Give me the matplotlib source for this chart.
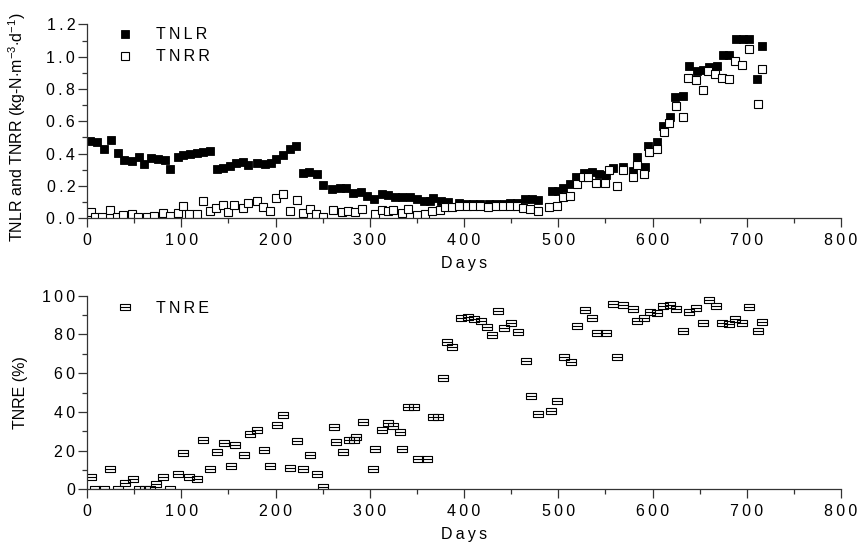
import matplotlib
matplotlib.use("Agg")
import matplotlib.pyplot as plt
from matplotlib.path import Path
from matplotlib.ticker import MultipleLocator, FuncFormatter

plt.rcParams['font.family'] = ['Liberation Sans', 'DejaVu Sans']
plt.rcParams['mathtext.fontset'] = 'custom'
plt.rcParams['mathtext.rm'] = 'Liberation Sans'
plt.rcParams['mathtext.it'] = 'Liberation Sans'

# loading rate (filled) and removal rate (open), kg-N/m3/d
tnlr_days = [3, 11, 18, 25.5, 32.6, 39.7, 47.5, 55, 60, 68, 75, 83, 88, 96, 102,
             109, 116.5, 123.5, 130.6, 137.7, 144.8, 151.8, 158, 166, 171, 180,
             188.6, 195.7, 201, 208, 215, 222, 229, 236, 243.5, 250.6, 260, 268,
             275, 282, 291, 297, 305, 312.5, 319.6, 326.6, 333.7, 343, 350, 357,
             364, 367, 376, 383, 395, 402, 410, 417, 426, 434, 442, 449, 456,
             464.6, 471.7, 478.8, 493, 500, 505, 512, 519, 527, 535.5, 543.5,
             550.6, 558.4, 569, 579, 583, 592, 595.5, 604.5, 611.5, 618, 624,
             632, 639, 647, 654, 660, 668, 675, 681.5, 688.6, 695.7, 702, 711.3,
             716]
tnlr = [0.48, 0.47, 0.43, 0.485, 0.405, 0.36, 0.357, 0.377, 0.336, 0.371, 0.365,
        0.361, 0.303, 0.377, 0.392, 0.398, 0.406, 0.412, 0.414, 0.303, 0.313,
        0.324, 0.344, 0.35, 0.327, 0.344, 0.336, 0.344, 0.365, 0.392, 0.427,
        0.447, 0.282, 0.289, 0.274, 0.206, 0.179, 0.186, 0.186, 0.159, 0.165,
        0.138, 0.122, 0.15, 0.144, 0.134, 0.13, 0.13, 0.12, 0.108, 0.105, 0.128,
        0.108, 0.102, 0.092, 0.09, 0.088, 0.088, 0.086, 0.088, 0.09, 0.092,
        0.095, 0.118, 0.118, 0.113, 0.171, 0.171, 0.19, 0.214, 0.258, 0.278,
        0.289, 0.274, 0.268, 0.309, 0.32, 0.29, 0.377, 0.32, 0.447, 0.474, 0.571,
        0.629, 0.748, 0.757, 0.942, 0.913, 0.918, 0.938, 0.942, 1.012, 1.012,
        1.107, 1.107, 1.107, 0.86, 1.066]

tnrr_days = [4, 8.5, 15.6, 24.5, 31.5, 38.6, 48, 54.5, 63.4, 71.5, 81, 88, 97,
             102.3, 108.3, 116.5, 123.5, 130.6, 136.6, 144.8, 150, 156.4, 166,
             170.6, 180.8, 187, 194, 201, 208, 215, 222.3, 229.3, 236.4, 242.5,
             250.6, 261, 270, 277, 284, 292, 305.4, 312.5, 319.6, 324.9, 333.7,
             340.8, 349.7, 358.5, 365.6, 374.4, 379.7, 386.8, 395, 402.7, 409.8,
             416.9, 425.8, 434, 441.8, 448.9, 456, 463, 470, 478, 490.5, 499,
             505.3, 512.4, 519.5, 526.6, 532, 540, 549.6, 554.2, 562, 569, 579,
             583.2, 591, 596.6, 604.5, 612.2, 617.8, 624.9, 632, 638, 646.2, 654,
             659.2, 666.3, 673.4, 681.5, 687.6, 694.7, 702, 712, 716]
tnrr = [0.041, 0.01, 0.01, 0.052, 0.01, 0.021, 0.025, 0.01, 0.01, 0.016, 0.031,
        0.014, 0.031, 0.076, 0.027, 0.027, 0.107, 0.047, 0.062, 0.082, 0.041,
        0.082, 0.062, 0.097, 0.109, 0.072, 0.047, 0.124, 0.15, 0.047, 0.113,
        0.035, 0.056, 0.027, 0.01, 0.052, 0.041, 0.047, 0.041, 0.056, 0.027,
        0.052, 0.047, 0.052, 0.031, 0.056, 0.021, 0.027, 0.047, 0.052, 0.072,
        0.068, 0.076, 0.076, 0.076, 0.076, 0.068, 0.076, 0.076, 0.076, 0.076,
        0.062, 0.056, 0.047, 0.072, 0.076, 0.13, 0.138, 0.212, 0.254, 0.254,
        0.22, 0.216, 0.299, 0.2, 0.299, 0.254, 0.33, 0.274, 0.412, 0.427, 0.534,
        0.592, 0.695, 0.625, 0.866, 0.856, 0.794, 0.913, 0.893, 0.866, 0.862,
        0.975, 0.948, 1.045, 0.707, 0.924]

# removal efficiency, %
tnre_days = [4, 8.5, 18, 24, 33, 40, 48.5, 55.5, 61.6, 67, 73.6, 81, 88.5, 96,
             102, 108.7, 116.5, 123.5, 130.6, 137.7, 145.8, 152.6, 157.5, 166.7,
             172.4, 180, 187.6, 194.3, 201.4, 208, 215.6, 222.7, 229, 236.5,
             243.5, 250, 261.6, 264, 271.5, 277.5, 282.8, 285.7, 292.7, 303, 306,
             313, 319, 325, 331.7, 334, 340.8, 347.2, 351.4, 360.3, 367.3, 372.6,
             377.3, 382.2, 387.2, 396.4, 403.8, 410.9, 418.3, 424, 429.3, 436.3,
             442.7, 449.8, 457.2, 465.4, 471, 478, 491.9, 498.9, 506, 513.1,
             520.1, 528.3, 535.4, 541.4, 550.3, 558, 562, 569, 578.9, 583.2,
             590.6, 597.3, 604.4, 611.4, 618.6, 625, 632, 638.8, 645.9, 654, 660,
             667.1, 674, 681, 688, 695, 702, 712, 716]
tnre = [6.5, 0, 0, 10.3, 0, 3, 5.3, 0, 0, 0, 2.8, 6.5, 0, 7.7, 19, 6.5, 5.5, 25.6,
        10.5, 19.5, 24.1, 11.9, 22.7, 17.6, 28.4, 30.5, 20.5, 12.2, 33, 38.4,
        11.2, 25, 10.5, 17.7, 8.1, 1, 32.2, 24.3, 19.5, 25.3, 25.3, 27.2, 34.6,
        10.3, 21, 30.8, 34.4, 32.7, 29.8, 21, 42.4, 42.5, 15.5, 15.5, 37.2, 37.2,
        57.7, 75.9, 73.3, 88.7, 88.8, 87.8, 87, 84, 79.9, 92.1, 83.5, 85.9,
        81.4, 66.3, 48.4, 38.9, 40.6, 45.8, 68.5, 65.9, 84.5, 92.6, 88.3, 80.6,
        80.6, 95.9, 68.5, 95.4, 93, 87.1, 88.5, 91.6, 90.9, 94.7, 95, 93, 81.8,
        91.8, 93.7, 86.1, 97.6, 94.5, 86, 85.2, 87.8, 86, 94.3, 82, 86.6]

SP = '\u2009'


def spaced(s):
    return SP.join(s)


box_line = Path([(-1, -0.72), (1, -0.72), (1, 0.72), (-1, 0.72), (-1, -0.72),
                 (-1, 0), (1, 0)],
                [Path.MOVETO, Path.LINETO, Path.LINETO, Path.LINETO,
                 Path.CLOSEPOLY, Path.MOVETO, Path.LINETO])

fig = plt.figure(figsize=(8.59, 5.51), dpi=100)
ax1 = fig.add_axes([0.1013, 0.6038, 0.8778, 0.352])
ax2 = fig.add_axes([0.1013, 0.112, 0.8778, 0.3513])

ax1.plot(tnlr_days, tnlr, 's', color='black', ms=6.0, mec='black', mew=0.6,
         label=spaced('TNLR'))
ax1.plot(tnrr_days, tnrr, 's', mfc='white', mec='black', ms=6.3, mew=0.8,
         label=spaced('TNRR'))
ax2.plot(tnre_days, tnre, linestyle='none', marker=box_line, ms=7.0,
         mfc='none', mec='black', mew=0.8, label=spaced('TNRE'))

ax1.set_ylim(0, 1.2)
ax2.set_ylim(0, 100)
ax1.yaxis.set_major_locator(MultipleLocator(0.2))
ax1.yaxis.set_minor_locator(MultipleLocator(0.1))
ax1.yaxis.set_major_formatter(FuncFormatter(lambda v, p: spaced(f'{v:.1f}')))
ax2.yaxis.set_major_locator(MultipleLocator(20))
ax2.yaxis.set_minor_locator(MultipleLocator(10))
ax2.yaxis.set_major_formatter(FuncFormatter(lambda v, p: spaced(f'{v:.0f}')))

for ax in (ax1, ax2):
    ax.set_xlim(0, 800)
    ax.xaxis.set_major_locator(MultipleLocator(100))
    ax.xaxis.set_minor_locator(MultipleLocator(50))
    ax.xaxis.set_major_formatter(FuncFormatter(lambda v, p: spaced(f'{v:.0f}')))
    for s in ('top', 'right'):
        ax.spines[s].set_visible(False)
    for s in ('left', 'bottom'):
        ax.spines[s].set_linewidth(0.9)
        ax.spines[s].set_color('#333333')
    ax.tick_params(which='major', length=6.5, width=0.9, labelsize=11.5,
                   color='#333333')
    ax.tick_params(which='minor', length=3.5, width=0.9, color='#333333')
    ax.tick_params(axis='y', pad=2)
    ax.tick_params(axis='x', pad=4)
    ax.set_xlabel(spaced('Days'), fontsize=11.5, labelpad=6)

ax1.set_ylabel(r'TNLR and TNRR (kg-N$\cdot$m$^{-3}$$\cdot$d$^{-1}$)', fontsize=11.5)
ax2.set_ylabel('TNRE (%)', fontsize=11.5)
ax1.yaxis.set_label_coords(-0.078, 0.47)
ax2.yaxis.set_label_coords(-0.078, 0.5)

ax1.legend(loc='upper left', bbox_to_anchor=(0.04, 0.985), frameon=False,
           numpoints=1, handlelength=1.0, handletextpad=1.4, borderpad=0,
           borderaxespad=0, labelspacing=0.45, fontsize=11.5)
ax2.legend(loc='upper left', bbox_to_anchor=(0.04, 0.975), frameon=False,
           numpoints=1, handlelength=1.0, handletextpad=1.4, borderpad=0,
           borderaxespad=0, fontsize=11.5)

fig.savefig('out.png', dpi=100)
